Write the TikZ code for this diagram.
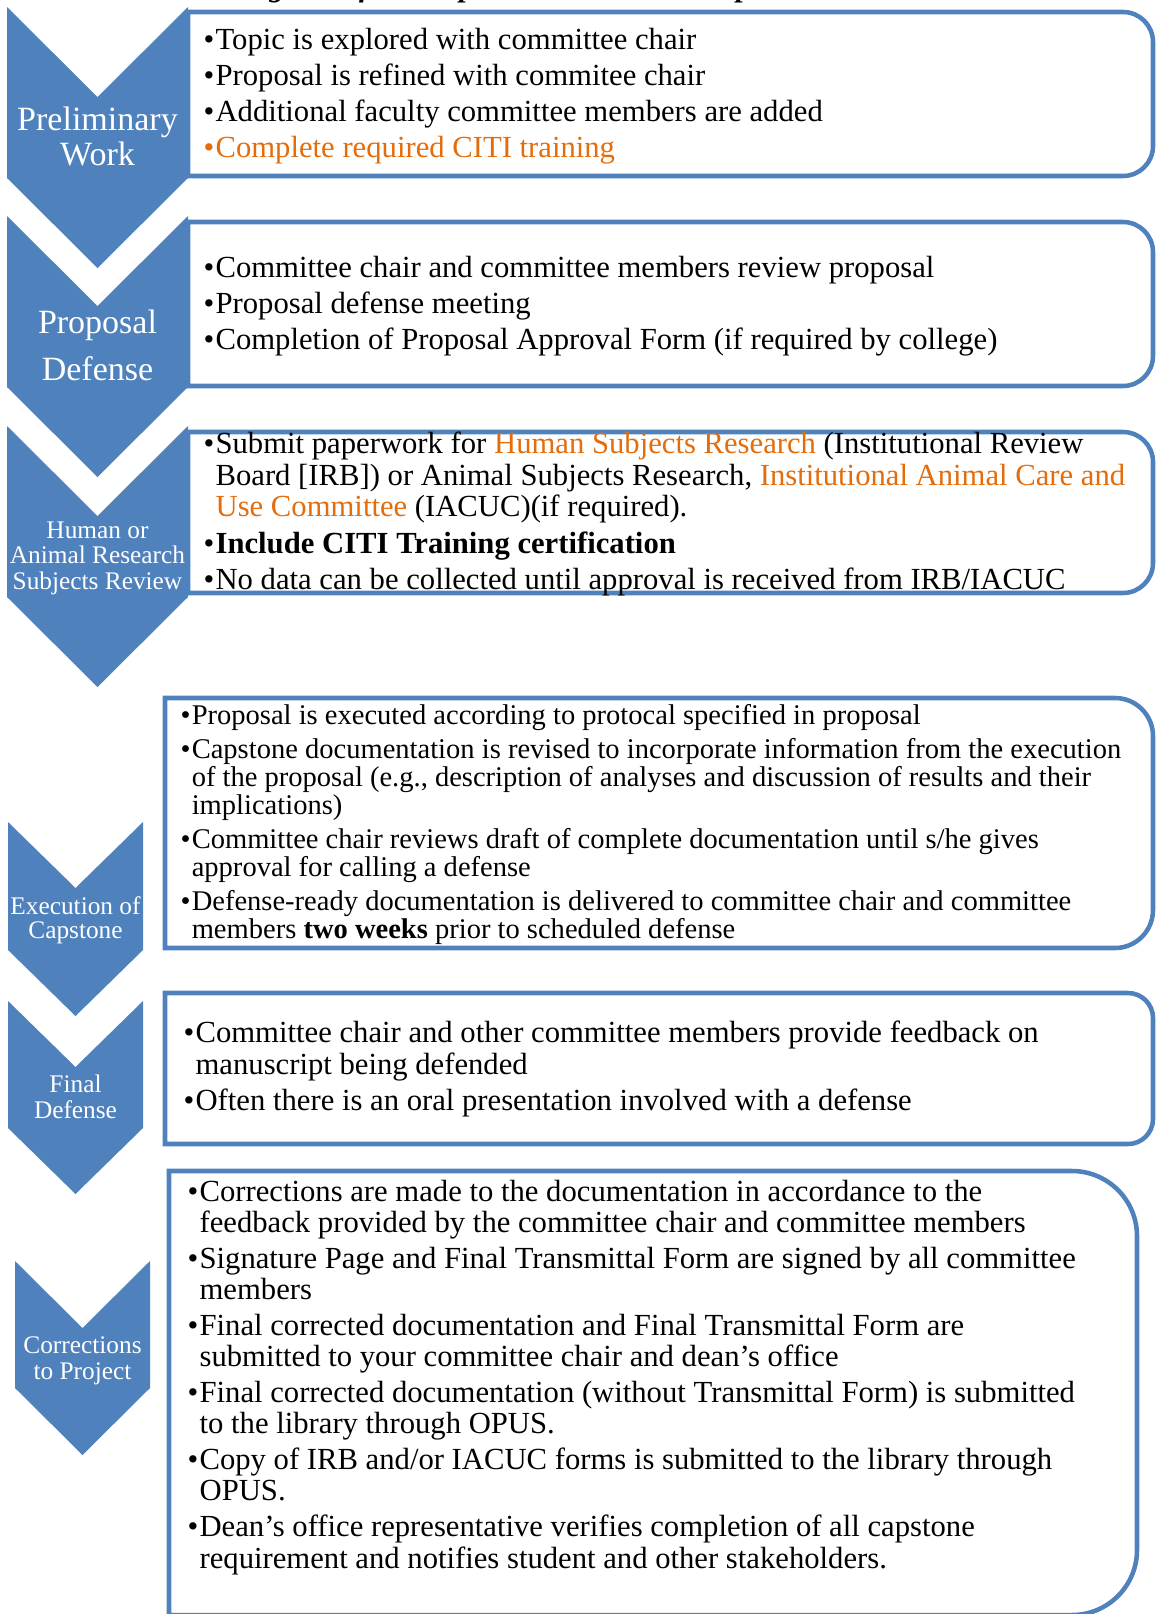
\documentclass[tikz,border=0pt]{standalone}
\usepackage{fontspec}
\setmainfont{Liberation Serif}
\usetikzlibrary{positioning}
\definecolor{chevblue}{HTML}{4F81BD}
\definecolor{citiorange}{HTML}{E46C0A}
\newcommand*{\itm}{\makebox[0.39em][l]{\textbullet}}
\newcommand*{\hang}{\hspace*{0.39em}}
\newcommand*{\orng}[1]{\textcolor{citiorange}{#1}}
% left, top, right, bottom, radius (px)
\newcommand*{\drawframe}[5]{%
  \draw[stepframe] (#1,#2) -- (#3-#5,#2) arc[start angle=90, end angle=0, radius=#5*0.75pt]
    -- (#3,#4-#5) arc[start angle=0, end angle=-90, radius=#5*0.75pt] -- (#1,#4) -- cycle;}
% centre x, top, half width, side height, notch depth (px)
\newcommand*{\drawchevron}[5]{%
  \fill[chevron] (#1-#3,#2) -- (#1,#2+#5) -- (#1+#3,#2) -- (#1+#3,#2+#4)
    -- (#1,#2+#4+#5) -- (#1-#3,#2+#4) -- cycle;}
\tikzset{
  stepframe/.style={draw=chevblue, line width=3.4pt},
  chevron/.style={fill=chevblue},
  steplabel/.style={text=white, align=center, anchor=base, inner sep=0pt},
  bigstep/.style={steplabel, font=\fontsize{25.5}{26.25}\selectfont},
  smallstep/.style={steplabel, font=\fontsize{19}{19.1}\selectfont},
  itemlist/.style={align=left, anchor=base west, inner sep=0pt, font=\fontsize{23}{23.5}\selectfont},
}

\begin{document}
\begin{tikzpicture}[x=0.75pt, y=-0.75pt, line width=1pt]
    \useasboundingbox (0,0) rectangle (1157,1614);
    \node[anchor=base, inner sep=0pt, font=\fontsize{23}{23}\selectfont\bfseries\itshape] (title) at (576,-4) {Diagram of the Capstone/Graduate Completion Process};

    \drawframe{188}{12}{1153}{176}{30}
    \drawframe{188}{222}{1153}{386}{30}
    \drawframe{188}{432}{1153}{593}{30}
    \drawframe{165}{698}{1153}{948}{38}
    \drawframe{165}{993}{1153}{1144}{25}
    \drawframe{169}{1171}{1137}{1615}{65}

    \drawchevron{97.5}{7}{90.5}{171}{90}
    \drawchevron{97.5}{216}{90.5}{171}{90}
    \drawchevron{97.5}{426}{90.5}{171}{90}
    \drawchevron{75.5}{822}{67.5}{128}{66}
    \drawchevron{75.5}{1001}{67.5}{127}{66}
    \drawchevron{82.5}{1261}{67.5}{127}{67}

    % multi-line nodes sit on the baseline of their last line
    \node[bigstep] (prelim) at (97.5,165) {Preliminary\\Work};
    \node[bigstep, font=\fontsize{25.5}{35}\selectfont] (propdef) at (97.5,380) {Proposal\\Defense};
    \node[smallstep] (review) at (97.5,589) {Human or\\Animal Research\\Subjects Review};
    \node[smallstep, font=\fontsize{19}{17.5}\selectfont] (execution) at (75.5,938) {Execution of\\Capstone};
    \node[smallstep] (finaldef) at (75.5,1118) {Final\\Defense};
    \node[smallstep] (corrections) at (82.5,1379) {Corrections\\to Project};

    \node[itemlist] (prelimList) at (203,157) {\itm Topic is explored with committee chair\\[3.3pt]
        \itm Proposal is refined with commitee chair\\[3.3pt]
        \itm Additional faculty committee members are added\\[3.3pt]
        \orng{\itm Complete required CITI training}};
    \node[itemlist] (propdefList) at (203,349) {\itm Committee chair and committee members review proposal\\[3.3pt]
        \itm Proposal defense meeting\\[3.3pt]
        \itm Completion of Proposal Approval Form (if required by college)};
    \node[itemlist] (reviewList) at (203,589) {\itm Submit paperwork for \orng{Human Subjects Research} (Institutional Review\\
        \hang Board [IRB]) or Animal Subjects Research, \orng{Institutional Animal Care and}\\
        \hang\orng{Use Committee} (IACUC)(if required).\\[4pt]
        \itm\textbf{Include CITI Training certification}\\[3.3pt]
        \itm No data can be collected until approval is received from IRB/IACUC};
    \node[itemlist, font=\fontsize{21.4}{21}\selectfont] (executionList) at (180,938) {\itm Proposal is executed according to protocal specified in proposal\\[4.5pt]
        \itm Capstone documentation is revised to incorporate information from the execution\\
        \hang of the proposal (e.g., description of analyses and discussion of results and their\\
        \hang implications)\\[4.5pt]
        \itm Committee chair reviews draft of complete documentation until s/he gives\\
        \hang approval for calling a defense\\[4.5pt]
        \itm Defense-ready documentation is delivered to committee chair and committee\\
        \hang members \textbf{two weeks} prior to scheduled defense};
    \node[itemlist] (finaldefList) at (183,1110) {\itm Committee chair and other committee members provide feedback on\\
        \hang manuscript being defended\\[3.3pt]
        \itm Often there is an oral presentation involved with a defense};
    \node[itemlist] (correctionsList) at (187,1568) {\itm Corrections are made to the documentation in accordance to the\\
        \hang feedback provided by the committee chair and committee members\\[3.3pt]
        \itm Signature Page and Final Transmittal Form are signed by all committee\\
        \hang members\\[3.3pt]
        \itm Final corrected documentation and Final Transmittal Form are\\
        \hang submitted to your committee chair and dean's office\\[3.3pt]
        \itm Final corrected documentation (without Transmittal Form) is submitted\\
        \hang to the library through OPUS.\\[3.3pt]
        \itm Copy of IRB and/or IACUC forms is submitted to the library through\\
        \hang OPUS.\\[3.3pt]
        \itm Dean's office representative verifies completion of all capstone\\
        \hang requirement and notifies student and other stakeholders.};
\end{tikzpicture}
\end{document}
